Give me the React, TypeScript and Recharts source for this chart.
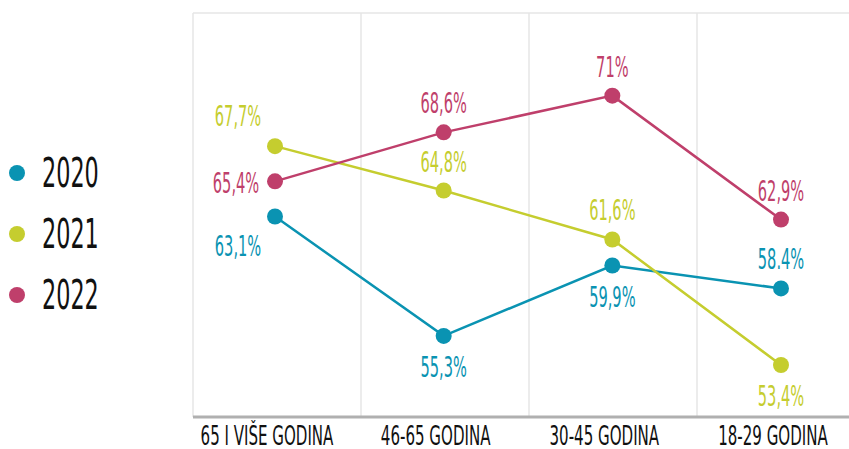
import React from "react"
import { LineChart, Line, XAxis, YAxis, CartesianGrid, Legend, LabelList } from "recharts"

const categories = ["65 I VIŠE GODINA", "46-65 GODINA", "30-45 GODINA", "18-29 GODINA"]
const values2020 = [63.1, 55.3, 59.9, 58.4]
const values2021 = [67.7, 64.8, 61.6, 53.4]
const values2022 = [65.4, 68.6, 71, 62.9]
const labels2020 = ["63,1%", "55,3%", "59,9%", "58.4%"]
const labels2021 = ["67,7%", "64,8%", "61,6%", "53,4%"]
const labels2022 = ["65,4%", "68,6%", "71%", "62,9%"]
const yTicks = [50, 52.5, 55, 57.5, 60, 62.5, 65, 67.5, 70, 72.5, 75]

const FONT = "'DejaVu Sans Condensed', 'DejaVu Sans', sans-serif"

// where each value label sits relative to its dot
type Place = "above" | "below" | "left" | "aboveLeft" | "belowLeft"
const OFFSETS: Record<Place, [number, number]> = {
  above: [0, -19],
  below: [0, 41],
  left: [-39, 12],
  aboveLeft: [-37, -20],
  belowLeft: [-37, 39],
}

const series = [
  { key: "y2020", name: "2020", color: "#0a93b2", labels: labels2020, places: ["belowLeft", "below", "below", "above"] as Place[] },
  { key: "y2021", name: "2021", color: "#c5cd2f", labels: labels2021, places: ["aboveLeft", "above", "above", "below"] as Place[] },
  { key: "y2022", name: "2022", color: "#bf3f6b", labels: labels2022, places: ["left", "above", "above", "above"] as Place[] },
]

const data = categories.map((cat, i) => ({
  cat,
  y2020: values2020[i],
  y2021: values2021[i],
  y2022: values2022[i],
}))

const makeLabel = (s: (typeof series)[0]) => (props: any) => {
  const { x, y, index } = props
  const [dx, dy] = OFFSETS[s.places[index]]
  return (
    <text
      transform={`translate(${x + dx},${y + dy}) scale(0.58,1)`}
      textAnchor="middle"
      fontFamily={FONT}
      fontSize={28}
      fill={s.color}
    >
      {s.labels[index]}
    </text>
  )
}

const AxisTick = ({ x, y, payload }: any) => (
  <text
    transform={`translate(${x - 8},${y + 20}) scale(0.62,1)`}
    textAnchor="middle"
    fontFamily={FONT}
    fontSize={27}
    fill="#111"
  >
    {payload.value}
  </text>
)

const LegendContent = ({ payload }: any) => (
  <div>
    {(payload || []).map((p: any) => (
      <div key={p.value} style={{ display: "flex", alignItems: "center", height: 61 }}>
        <span
          style={{
            display: "inline-block",
            flexShrink: 0,
            width: 16,
            height: 16,
            borderRadius: 8,
            background: p.color,
            marginLeft: 9,
            marginRight: 17,
          }}
        />
        <span
          style={{
            display: "inline-block",
            flexShrink: 0,
            fontFamily: FONT,
            fontSize: 40,
            lineHeight: "40px",
            color: "#111",
            transform: "scaleX(0.62)",
            transformOrigin: "left center",
          }}
        >
          {p.value}
        </span>
      </div>
    ))}
  </div>
)

export default function App() {
  return (
    <div style={{ width: 849, height: 449, overflow: "hidden", position: "relative" }}>
      <style>{`body{margin:0}`}</style>
      <LineChart width={865} height={449} data={data} margin={{ top: 13, right: 0, left: 193, bottom: 0 }}>
        <CartesianGrid
          stroke="#e6e6e6"
          strokeWidth={1.5}
          verticalCoordinatesGenerator={({ offset }: any) =>
            categories.map((_, i) => offset.left + (i * offset.width) / categories.length)
          }
        />
        <XAxis
          dataKey="cat"
          height={32}
          padding={{ left: 82, right: 84 }}
          tickLine={false}
          axisLine={{ stroke: "#b0b0b0", strokeWidth: 3 }}
          tick={<AxisTick />}
          interval={0}
        />
        <YAxis
          width={0}
          domain={[50, 76.4]}
          ticks={yTicks}
          tick={false}
          tickLine={false}
          axisLine={{ stroke: "#b0b0b0", strokeWidth: 3 }}
        />
        <Legend
          layout="vertical"
          align="center"
          verticalAlign="middle"
          content={<LegendContent />}
          wrapperStyle={{ left: 0, top: 142, width: 160 }}
        />
        {series.map((s) => (
          <Line
            key={s.key}
            dataKey={s.key}
            name={s.name}
            stroke={s.color}
            strokeWidth={2.5}
            dot={{ r: 8, fill: s.color, stroke: "none" }}
            activeDot={false}
            isAnimationActive={false}
          >
            <LabelList dataKey={s.key} content={makeLabel(s)} />
          </Line>
        ))}
      </LineChart>
    </div>
  )
}
